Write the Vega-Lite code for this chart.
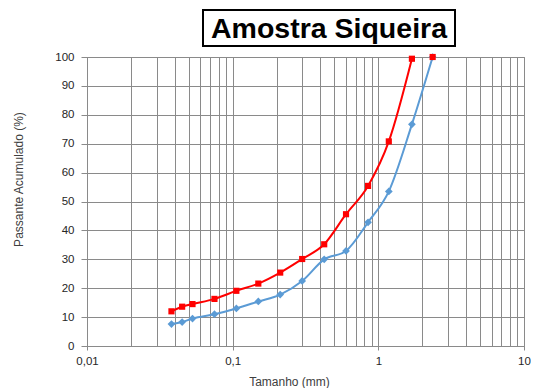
{
  "$schema": "https://vega.github.io/schema/vega-lite/v6.json",
  "padding": {"left": 12, "top": 9, "right": 0, "bottom": 0},
  "background": "white",
  "config": {
    "font": "Liberation Sans",
    "view": {"stroke": "#8a8a8a"},
    "axis": {"labelFont": "Liberation Sans", "titleFont": "Liberation Sans"}
  },
  "datasets": {
    "titulo": [{"t": "Amostra Siqueira"}],
    "g": [
      {"serie": "A", "tamanho": 0.038, "passante": 12.0},
      {"serie": "A", "tamanho": 0.045, "passante": 13.6},
      {"serie": "A", "tamanho": 0.053, "passante": 14.5},
      {"serie": "A", "tamanho": 0.075, "passante": 16.3},
      {"serie": "A", "tamanho": 0.106, "passante": 19.1},
      {"serie": "A", "tamanho": 0.150, "passante": 21.6},
      {"serie": "A", "tamanho": 0.212, "passante": 25.4},
      {"serie": "A", "tamanho": 0.300, "passante": 30.1},
      {"serie": "A", "tamanho": 0.425, "passante": 35.2},
      {"serie": "A", "tamanho": 0.600, "passante": 45.6},
      {"serie": "A", "tamanho": 0.850, "passante": 55.4},
      {"serie": "A", "tamanho": 1.18, "passante": 70.8},
      {"serie": "A", "tamanho": 1.70, "passante": 99.4},
      {"serie": "A", "tamanho": 2.36, "passante": 100},
      {"serie": "B", "tamanho": 0.038, "passante": 7.6},
      {"serie": "B", "tamanho": 0.045, "passante": 8.3},
      {"serie": "B", "tamanho": 0.053, "passante": 9.5},
      {"serie": "B", "tamanho": 0.075, "passante": 11.0},
      {"serie": "B", "tamanho": 0.106, "passante": 13.0},
      {"serie": "B", "tamanho": 0.150, "passante": 15.4},
      {"serie": "B", "tamanho": 0.212, "passante": 17.8},
      {"serie": "B", "tamanho": 0.300, "passante": 22.5},
      {"serie": "B", "tamanho": 0.425, "passante": 30.0},
      {"serie": "B", "tamanho": 0.600, "passante": 32.9},
      {"serie": "B", "tamanho": 0.850, "passante": 42.8},
      {"serie": "B", "tamanho": 1.18, "passante": 53.5},
      {"serie": "B", "tamanho": 1.70, "passante": 76.7},
      {"serie": "B", "tamanho": 2.36, "passante": 100}
    ]
  },
  "spacing": 3,
  "vconcat": [
    {
      "spacing": 0,
      "hconcat": [
        {
          "width": 115, "height": 36,
          "view": {"stroke": null},
          "data": {"name": "titulo"},
          "mark": {"type": "text", "opacity": 0},
          "encoding": {"text": {"field": "t"}}
        },
        {
          "width": 252, "height": 36,
          "view": {"stroke": "#000000", "strokeWidth": 2, "fill": "white"},
          "data": {"name": "titulo"},
          "mark": {"type": "text", "fontSize": 28.5, "fontWeight": "bold", "font": "Liberation Sans", "color": "#000000", "dy": 1},
          "encoding": {"text": {"field": "t"}}
        }
      ]
    },
    {
      "width": 437,
      "height": 289,
      "data": {"name": "g"},
      "encoding": {
        "x": {
          "field": "tamanho", "type": "quantitative",
          "scale": {"type": "log", "domain": [0.01, 10], "nice": false},
          "title": "Tamanho  (mm)",
          "axis": {
            "values": [0.01, 0.02, 0.03, 0.04, 0.05, 0.06, 0.07, 0.08, 0.09, 0.1, 0.2, 0.3, 0.4, 0.5, 0.6, 0.7, 0.8, 0.9, 1, 2, 3, 4, 5, 6, 7, 8, 9, 10],
            "labelExpr": "datum.value == 0.01 ? '0,01' : datum.value == 0.1 ? '0,1' : datum.value == 1 ? '1' : datum.value == 10 ? '10' : ''",
            "labelOverlap": false,
            "labelFlush": false,
            "labelFontSize": 11.5,
            "labelColor": "#262626",
            "labelPadding": 5,
            "grid": true,
            "gridColor": "#8a8a8a",
            "gridOpacity": 1,
            "domainColor": "#8a8a8a",
            "tickColor": "#8a8a8a",
            "tickSize": 4,
            "tickOpacity": {"condition": {"test": "datum.value == 0.01 || datum.value == 0.1 || datum.value == 1 || datum.value == 10", "value": 1}, "value": 0},
            "titleFontSize": 12,
            "titleFontWeight": "normal",
            "titleColor": "#404040",
            "titlePadding": 10,
            "titleX": 202
          }
        },
        "y": {
          "field": "passante", "type": "quantitative",
          "scale": {"domain": [0, 100], "nice": false},
          "title": "Passante Acumulado  (%)",
          "axis": {
            "values": [0, 10, 20, 30, 40, 50, 60, 70, 80, 90, 100],
            "labelFontSize": 11.5,
            "labelColor": "#262626",
            "labelPadding": 7,
            "grid": true,
            "gridColor": "#8a8a8a",
            "gridOpacity": 1,
            "domainColor": "#8a8a8a",
            "tickColor": "#8a8a8a",
            "tickSize": 6,
            "titleFontSize": 12,
            "titleFontWeight": "normal",
            "titleColor": "#404040",
            "titlePadding": 29,
            "titleY": 122
          }
        }
      },
      "layer": [
        {
          "transform": [{"filter": "datum.serie == 'B'"}],
          "mark": {"type": "line", "interpolate": "monotone", "color": "#5B9BD5", "strokeWidth": 2}
        },
        {
          "transform": [{"filter": "datum.serie == 'B'"}],
          "mark": {"type": "point", "shape": "diamond", "filled": true, "color": "#5B9BD5", "size": 60, "opacity": 1}
        },
        {
          "transform": [{"filter": "datum.serie == 'A' && datum.tamanho < 2"}],
          "mark": {"type": "line", "interpolate": "monotone", "color": "#FF0000", "strokeWidth": 2}
        },
        {
          "transform": [{"filter": "datum.serie == 'A'"}],
          "mark": {"type": "point", "shape": "square", "filled": true, "color": "#FF0000", "size": 38, "opacity": 1}
        }
      ]
    }
  ]
}
